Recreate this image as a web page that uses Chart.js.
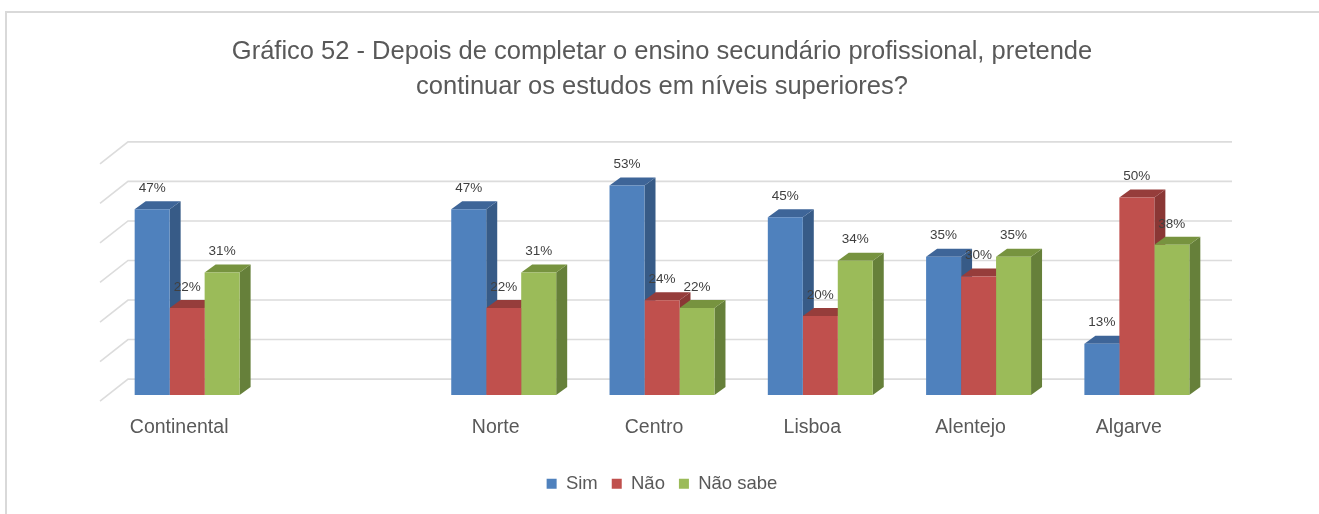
<!DOCTYPE html>
<html lang="pt">
<head>
    <meta charset="UTF-8">
    <title>Gráfico 52</title>
    <script src="https://cdn.jsdelivr.net/npm/chart.js"></script>
    <style>
        html, body { margin: 0; padding: 0; background: #fff; }
        #wrap { width: 1319px; height: 514px; }
    </style>
</head>
<body>
<div id="wrap">
    <canvas id="grafico52" width="1319" height="514"></canvas>
</div>

<script>
    // categorias (a segunda fica vazia, só para criar o espaço)
    const categorias = ['Continental', '', 'Norte', 'Centro', 'Lisboa', 'Alentejo', 'Algarve'];
    const sim = [47, null, 47, 53, 45, 35, 13];
    const nao = [22, null, 22, 24, 20, 30, 50];
    const naoSabe = [31, null, 31, 22, 34, 35, 38];
    const valoresEixo = [0, 10, 20, 30, 40, 50, 60];

    // cores: frente, lado, topo
    const cores = [
        ['#4F81BD', '#375B87', '#3E6598'],
        ['#C0504D', '#8A3735', '#963D3B'],
        ['#9BBB59', '#66803A', '#77933F']
    ];

    const prof = { dx: 11, dy: -8 };      // profundidade das barras
    const parede = { dx: 20, dy: -16 };   // recuo da parede de fundo

    const fundo3d = {
        id: 'fundo3d',
        beforeDraw(chart) {
            const ctx = chart.ctx;
            ctx.save();
            ctx.fillStyle = '#fff';
            ctx.fillRect(0, 0, chart.width, chart.height);
            // moldura
            ctx.strokeStyle = '#D9D9D9';
            ctx.lineWidth = 2;
            ctx.beginPath();
            ctx.moveTo(6, chart.height);
            ctx.lineTo(6, 12);
            ctx.lineTo(chart.width, 12);
            ctx.stroke();
            ctx.restore();
        },
        beforeDatasetsDraw(chart) {
            const ctx = chart.ctx;
            const area = chart.chartArea;
            const y = chart.scales.y;
            ctx.save();
            // linhas de grelha na parede de fundo + diagonal na parede lateral
            ctx.strokeStyle = '#DCDCDC';
            ctx.lineWidth = 1.6;
            valoresEixo.forEach(v => {
                const yb = y.getPixelForValue(v) + parede.dy;
                const xl = area.left + parede.dx;
                ctx.beginPath();
                ctx.moveTo(area.left - 8, yb + 22);
                ctx.lineTo(xl, yb);
                ctx.lineTo(area.right + 16, yb);
                ctx.stroke();
            });
            // faces laterais e topos, da esquerda para a direita
            const n = categorias.length;
            for (let i = 0; i < n; i++) {
                chart.data.datasets.forEach((ds, d) => {
                    const bar = chart.getDatasetMeta(d).data[i];
                    if (!bar || ds.data[i] == null) return;
                    const p = bar.getProps(['x', 'y', 'base', 'width'], true);
                    const l = p.x - p.width / 2, r = p.x + p.width / 2;
                    ctx.fillStyle = cores[d][1];
                    ctx.beginPath();
                    ctx.moveTo(r, p.base);
                    ctx.lineTo(r + prof.dx, p.base + prof.dy);
                    ctx.lineTo(r + prof.dx, p.y + prof.dy);
                    ctx.lineTo(r, p.y);
                    ctx.closePath();
                    ctx.fill();
                    ctx.fillStyle = cores[d][2];
                    ctx.beginPath();
                    ctx.moveTo(l, p.y);
                    ctx.lineTo(l + prof.dx, p.y + prof.dy);
                    ctx.lineTo(r + prof.dx, p.y + prof.dy);
                    ctx.lineTo(r, p.y);
                    ctx.closePath();
                    ctx.fill();
                });
            }
            ctx.restore();
        },
        afterDatasetsDraw(chart) {
            // rótulos de valor por cima de cada barra
            const ctx = chart.ctx;
            ctx.save();
            ctx.font = '13.5px "Liberation Sans", Arial, sans-serif';
            ctx.fillStyle = '#404040';
            ctx.textAlign = 'center';
            ctx.textBaseline = 'middle';
            chart.data.datasets.forEach((ds, d) => {
                chart.getDatasetMeta(d).data.forEach((bar, i) => {
                    if (ds.data[i] == null) return;
                    ctx.fillText(ds.data[i] + '%', bar.x, bar.y - 21);
                });
            });
            ctx.restore();
        }
    };

    const ctx = document.getElementById('grafico52').getContext('2d');
    new Chart(ctx, {
        type: 'bar',
        data: {
            labels: categorias,
            datasets: [
                { label: 'Sim', data: sim, backgroundColor: cores[0][0] },
                { label: 'Não', data: nao, backgroundColor: cores[1][0] },
                { label: 'Não sabe', data: naoSabe, backgroundColor: cores[2][0] }
            ]
        },
        options: {
            responsive: false,
            animation: false,
            layout: { padding: { left: 108, right: 103, top: 0, bottom: 11 } },
            categoryPercentage: 0.663,
            barPercentage: 1,
            scales: {
                x: {
                    grid: { display: false, drawTicks: false },
                    border: { display: false },
                    ticks: {
                        color: '#595959',
                        font: { family: '"Liberation Sans", Arial, sans-serif', size: 19.5 },
                        padding: 21,
                        labelOffset: -8,
                        maxRotation: 0,
                        autoSkip: false
                    }
                },
                y: {
                    display: false,
                    min: 0,
                    max: 60
                }
            },
            plugins: {
                title: {
                    display: true,
                    text: ['Gráfico 52 - Depois de completar o ensino secundário profissional, pretende',
                           'continuar os estudos em níveis superiores?'],
                    color: '#595959',
                    font: { family: '"Liberation Sans", Arial, sans-serif', size: 25.5, weight: 'normal', lineHeight: 1.37 },
                    padding: { top: 34.5, bottom: 53.5 }
                },
                legend: {
                    position: 'bottom',
                    labels: {
                        color: '#595959',
                        font: { family: '"Liberation Sans", Arial, sans-serif', size: 18.5 },
                        boxWidth: 10,
                        boxHeight: 10,
                        padding: 14
                    }
                },
                tooltip: { enabled: false }
            }
        },
        plugins: [fundo3d]
    });
</script>
</body>
</html>
